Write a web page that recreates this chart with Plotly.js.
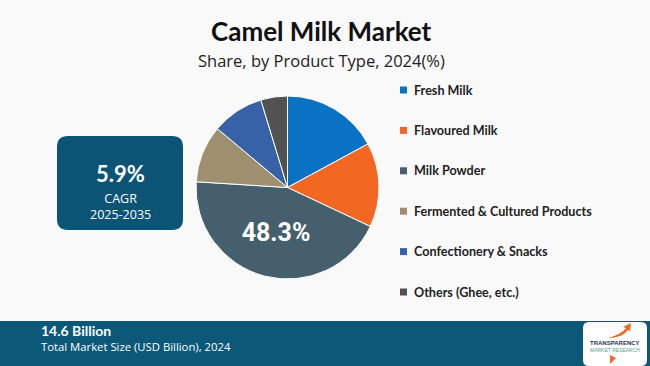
<!DOCTYPE html>
<html>
<head>
<meta charset="utf-8">
<script src="https://cdn.plot.ly/plotly-3.0.1.min.js"></script>
<style>html,body{margin:0;padding:0;background:#f9f9f9;}#chart{width:650px;height:366px;}</style>
</head>
<body>
<div id="chart"></div>
<script>
// ---- data ----
const categories = ["Fresh Milk", "Flavoured Milk", "Milk Powder", "Fermented & Cultured Products", "Confectionery & Snacks", "Others (Ghee, etc.)"];
const shares = [17.1, 14.9, 44.0, 10.1, 9.2, 4.7];
const sliceLabels = ["", "", "48.3%", "", "", ""];
const colors = ["#0A72C4", "#F26722", "#455F6D", "#9E8F6E", "#3762A8", "#525252"];
const titleText = "Camel Milk Market";
const subtitleText = "Share, by Product Type, 2024(%)";
const cagrValue = "5.9%";
const cagrLabel = "CAGR";
const cagrPeriod = "2025-2035";
const marketSize = "14.6 Billion";
const marketSizeLabel = "Total Market Size (USD Billion), 2024";

// ---- helpers (pixel -> paper) ----
const W = 650, H = 366;
const px = x => x / W;
const py = y => 1 - y / H;
function roundRect(x0, y0, x1, y1, r) {
  const rx = r / W, ry = r / H;
  const X0 = px(x0), X1 = px(x1), Y0 = py(y0), Y1 = py(y1);
  return `M${X0 + rx},${Y0} L${X1 - rx},${Y0} Q${X1},${Y0} ${X1},${Y0 - ry} L${X1},${Y1 + ry} Q${X1},${Y1} ${X1 - rx},${Y1} L${X0 + rx},${Y1} Q${X0},${Y1} ${X0},${Y1 + ry} L${X0},${Y0 - ry} Q${X0},${Y0} ${X0 + rx},${Y0} Z`;
}

const pie = {
  type: "pie",
  labels: categories,
  values: shares,
  text: sliceLabels,
  textinfo: "text",
  textposition: "inside",
  insidetextorientation: "horizontal",
  textfont: {family: "Roboto", size: 25, color: "#ffffff", weight: "bold"},
  marker: {colors: colors, line: {color: "#ffffff", width: 1}},
  sort: false,
  direction: "clockwise",
  rotation: 0,
  showlegend: false,
  hoverinfo: "label+percent",
  domain: {x: [px(196), px(379)], y: [py(279), py(96)]}
};

const shapes = [
  {type: "path", xref: "paper", yref: "paper", path: roundRect(57, 136, 183, 230, 11), fillcolor: "#0B5476", line: {width: 0}},
  {type: "rect", xref: "paper", yref: "paper", x0: 0, x1: 1, y0: 0, y1: py(321), fillcolor: "#0B5878", line: {width: 0}},
  {type: "path", xref: "paper", yref: "paper", path: roundRect(583, 322, 647, 366, 6), fillcolor: "#ffffff", line: {width: 0}}
];

const annotations = [
  {text: "<b>" + titleText + "</b>", x: px(321), y: py(31), xref: "paper", yref: "paper", showarrow: false, xanchor: "center", yanchor: "middle", font: {family: "Lato", size: 26, color: "#111111"}},
  {text: subtitleText, x: px(321), y: py(61), xref: "paper", yref: "paper", showarrow: false, xanchor: "center", yanchor: "middle", font: {family: "Open Sans", size: 16.5, color: "#222222"}},
  {text: "<b>" + cagrValue + "</b>", x: px(120), y: py(173), xref: "paper", yref: "paper", showarrow: false, xanchor: "center", yanchor: "middle", font: {family: "Lato", size: 22, color: "#ffffff"}},
  {text: cagrLabel + "<br>" + cagrPeriod, x: px(120), y: py(206.5), xref: "paper", yref: "paper", showarrow: false, xanchor: "center", yanchor: "middle", font: {family: "Open Sans", size: 12.5, color: "#ffffff"}},
  {text: "<span style='font-family:Lato;font-size:14px;font-weight:bold'>" + marketSize + "</span><br>" + marketSizeLabel, x: px(39), y: py(337.5), xref: "paper", yref: "paper", showarrow: false, xanchor: "left", yanchor: "middle", align: "left", font: {family: "Open Sans", size: 11.3, color: "#ffffff"}},
  {text: "<b>TRANSPARENCY</b>", x: px(615), y: py(343), xref: "paper", yref: "paper", showarrow: false, xanchor: "center", yanchor: "middle", font: {family: "Liberation Sans", size: 6, color: "#1d3557"}},
  {text: "MARKET RESEARCH", x: px(615), y: py(350), xref: "paper", yref: "paper", showarrow: false, xanchor: "center", yanchor: "middle", font: {family: "Liberation Sans", size: 5, color: "#5aa08a"}}
];
// logo arrow
shapes.push({type: "path", xref: "paper", yref: "paper", path: `M${px(608)},${py(338)} Q${px(622)},${py(334)} ${px(626)},${py(328)} L${px(623)},${py(327)} L${px(631)},${py(323)} L${px(630)},${py(331)} L${px(628)},${py(330)} Q${px(622)},${py(338)} ${px(608)},${py(338)} Z`, fillcolor: "#F26722", line: {width: 0}});
shapes.push({type: "path", xref: "paper", yref: "paper", path: `M${px(610)},${py(355)} L${px(610)},${py(364)} L${px(616)},${py(358)} Z`, fillcolor: "#F26722", line: {width: 0}});

// legend built from categories/colors
const legTop = 90, legStep = 40.4;
categories.forEach((c, i) => {
  const yc = legTop + i * legStep;
  shapes.push({type: "rect", xref: "paper", yref: "paper", x0: px(400), x1: px(407), y0: py(yc + 3.5), y1: py(yc - 3.5), fillcolor: colors[i], line: {width: 0}});
  annotations.push({text: "<b>" + c + "</b>", x: px(412), y: py(yc), xref: "paper", yref: "paper", showarrow: false, xanchor: "left", yanchor: "middle", font: {family: "Lato", size: 12.6, color: "#222222"}});
});

const layout = {
  width: W, height: H,
  margin: {l: 0, r: 0, t: 0, b: 0},
  paper_bgcolor: "#f9f9f9",
  plot_bgcolor: "#f9f9f9",
  showlegend: false,
  shapes: shapes,
  annotations: annotations
};

Plotly.newPlot("chart", [pie], layout, {displayModeBar: false, staticPlot: true});
</script>
</body>
</html>
